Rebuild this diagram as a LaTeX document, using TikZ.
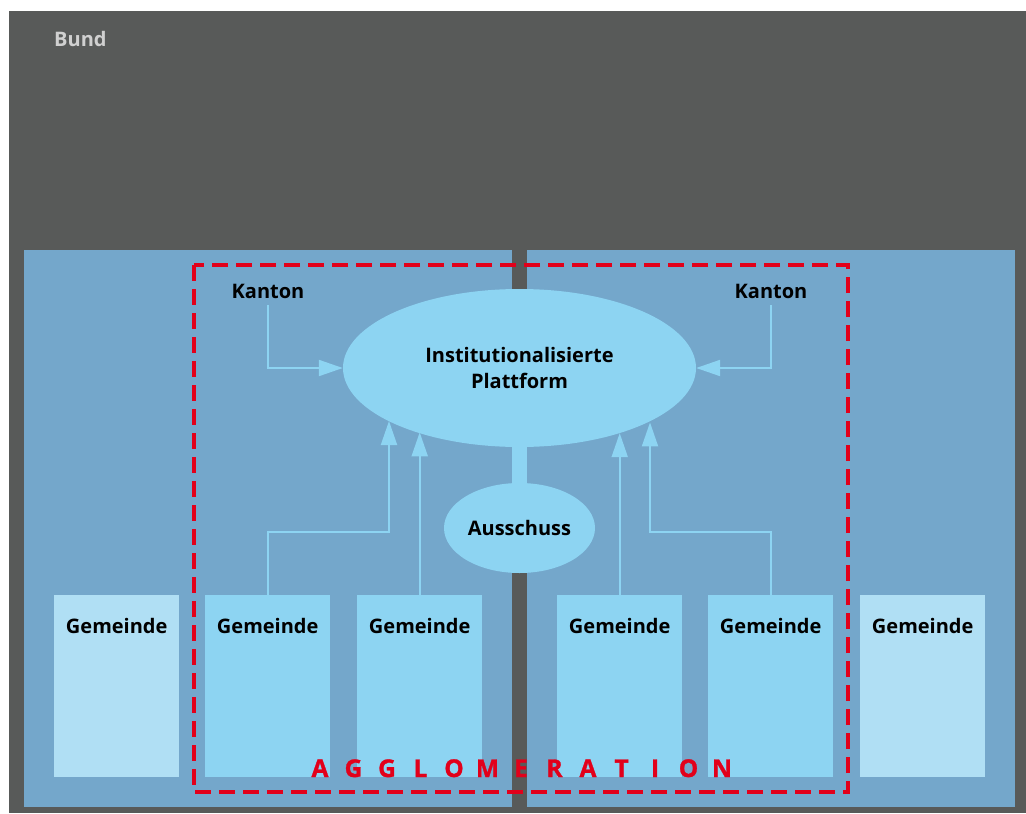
\documentclass[tikz,border=0pt]{standalone}
\usepackage{fontspec}
\setmainfont{Open Sans}
\newfontfamily\heavyfont{Open Sans}[UprightFont=*-Bold, FakeBold=1.2]
\usetikzlibrary{shapes.geometric,arrows.meta}

\definecolor{bunddark}{RGB}{88,90,89}
\definecolor{bundtext}{RGB}{208,208,208}
\definecolor{kantonblue}{RGB}{116,167,203}
\definecolor{corelight}{RGB}{141,212,242}
\definecolor{outerlight}{RGB}{176,223,244}
\definecolor{agglored}{RGB}{226,0,26}

\tikzset{
  lbl/.style={font=\fontsize{20}{26}\selectfont\bfseries, text=black, inner sep=0pt},
  gbox/.style={lbl, rectangle, minimum width=125pt, inner xsep=0pt, inner ysep=0pt,
               text height=38pt, text depth=144pt, anchor=north west},
  corebox/.style={gbox, fill=corelight},
  outerbox/.style={gbox, fill=outerlight},
  bubble/.style={lbl, ellipse, fill=corelight, align=center},
  conn/.style={draw=corelight, line width=2pt, -{Triangle[length=24pt,width=16pt]}},
  stem/.style={draw=corelight, line width=15pt},
  perimeter/.style={draw=agglored, line width=4pt, dash pattern=on 16pt off 8pt},
  letter/.style={font=\heavyfont\fontsize{24.5}{24.5}\selectfont, text=agglored, inner sep=0pt, anchor=base}
}

\begin{document}
\begin{tikzpicture}[x=1pt,y=-1pt]
  \useasboundingbox (0,0) rectangle (1026,814);

  % federal level and the two cantons
  \fill[bunddark] (9,11) rectangle (1026,813);
  \node[lbl, text=bundtext, anchor=base west] (bund) at (54,46) {Bund};
  \fill[kantonblue] (24,250) rectangle (512,807);
  \fill[kantonblue] (527,250) rectangle (1015,807);

  % municipalities
  \node[outerbox] (g1) at (54,595)  {Gemeinde};
  \node[corebox]  (g2) at (205,595) {Gemeinde};
  \node[corebox]  (g3) at (357,595) {Gemeinde};
  \node[corebox]  (g4) at (557,595) {Gemeinde};
  \node[corebox]  (g5) at (708,595) {Gemeinde};
  \node[outerbox] (g6) at (860,595) {Gemeinde};

  % platform and committee
  \node[bubble, minimum width=353pt, minimum height=158pt] (plat) at (519.5,368)
       {Institutionalisierte\\Plattform};
  \node[bubble, minimum width=151pt, minimum height=90pt] (aus) at (519.5,528) {Ausschuss};
  \draw[stem] (plat.south) -- (aus.north);

  % cantons
  \node[lbl, inner ysep=7pt] (kl) at (268,291) {Kanton};
  \node[lbl, inner ysep=7pt] (kr) at (771,291) {Kanton};
  \draw[conn] (kl.south) |- (plat.west);
  \draw[conn] (kr.south) |- (plat.east);

  % municipalities report to the platform
  \coordinate (railL) at (389,532);
  \coordinate (railR) at (650,532);
  \draw[conn] (g2.north) |- (railL) -- (railL |- plat.202.1);
  \draw[conn] (g3.north) -- (g3.north |- plat.212.9);
  \draw[conn] (g4.north) -- (g4.north |- plat.327.1);
  \draw[conn] (g5.north) |- (railR) -- (railR |- plat.337.9);

  % agglomeration perimeter
  \draw[perimeter] (194,265) rectangle (848,792);
  \foreach \l [count=\i] in {A,G,G,L,O,M,E,R,A,T,I,O,N}
    \node[letter] (ag\i) at ({320+(\i-1)*33.5},777) {\l};
\end{tikzpicture}
\end{document}
